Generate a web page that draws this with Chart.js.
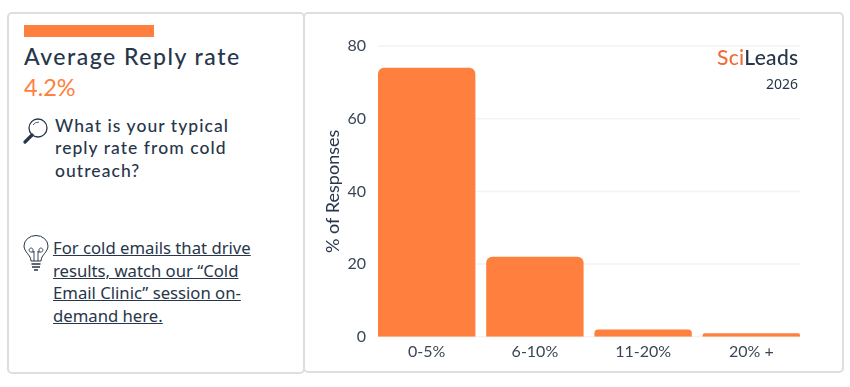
<!DOCTYPE html>
<html>
<head>
<meta charset="utf-8">
<script src="https://cdn.jsdelivr.net/npm/chart.js@4"></script>
<style>
  html, body { margin: 0; padding: 0; background: #fff; }
  body { width: 850px; height: 387px; position: relative; overflow: hidden; color: #27364a; }
  .card { position: absolute; box-sizing: border-box; border: 2px solid #dedede; border-radius: 5px; background: #fff; }
  #izq { left: 7px; top: 12px; width: 298px; height: 362px; }
  #der { left: 303px; top: 12px; width: 541px; height: 361px; }
  #barra { position: absolute; left: 24px; top: 25px; width: 130px; height: 12px; background: #ff7f3e; }
  .t { position: absolute; white-space: nowrap; }
  #titulo { left: 24px; top: 42px; font: 500 23px/28px Lato, sans-serif; letter-spacing: 1.5px; }
  #valor { left: 24px; top: 72px; font: 400 23.5px/30px Lato, sans-serif; color: #ff7f3e; }
  #pregunta { left: 55px; top: 114.5px; font: 500 17.5px/22.7px Lato, sans-serif; letter-spacing: 1.05px; }
  #enlace { left: 53px; top: 237px; font: 400 16.7px/22.7px "Noto Sans", sans-serif; text-decoration: underline; }
  #logo { left: 717px; top: 46px; font: 500 21px/22px Lato, sans-serif; letter-spacing: 0.3px; }
  #logo span { color: #f26a36; }
  #anio { left: 766px; top: 75px; font: 400 14px/18px "Noto Sans", sans-serif; }
  svg { position: absolute; fill: none; stroke: #27364a; }
  #grafico { position: absolute; left: 305px; top: 14px; }
</style>
</head>
<body>
<div class="card" id="izq"></div>
<div class="card" id="der"></div>
<div id="barra"></div>
<div class="t" id="titulo">Average Reply rate</div>
<div class="t" id="valor">4.2%</div>
<svg style="left:23px;top:117px" width="26" height="27" viewBox="0 0 26 27">
  <circle cx="15" cy="11" r="9" stroke-width="1.3"/>
  <path d="M9 18 L2 25" stroke-width="3.2" stroke-linecap="round"/>
  <path d="M10 8 Q12 5 16 5" stroke-width="0.8"/>
</svg>
<div class="t" id="pregunta">What is your typical<br>reply rate from cold<br>outreach?</div>
<svg style="left:23px;top:235px" width="26" height="37" viewBox="0 0 26 37">
  <path d="M8 26 C8 20 1 17 1 11 A12 10.5 0 0 1 25 11 C25 17 18 20 18 26 Z" stroke-width="1"/>
  <path d="M11 26 V16 M15 26 V16 M11 17 H7.5 A2 2 0 1 1 10 14.5 V17 M15 17 H18.5 A2 2 0 1 0 16 14.5 V17" stroke-width="0.9"/>
  <path d="M8.5 29 H17.5 M9 32 H17 M11 35 H15" stroke-width="1.5"/>
</svg>
<div class="t" id="enlace">For cold emails that drive<br>results, watch our “Cold<br>Email Clinic” session on-<br>demand here.</div>
<canvas id="grafico" width="537" height="357"></canvas>
<div class="t" id="logo"><span>Sci</span>Leads</div>
<div class="t" id="anio">2026</div>
<script>
const categorias = ['0-5%', '6-10%', '11-20%', '20% +'];
const respuestas = [74, 22, 2, 1];
const marcasY = [0, 20, 40, 60, 80];

// Las líneas de la rejilla van de borde a borde de las barras, no de todo el área
const rejilla = {
    id: 'rejilla',
    beforeDatasetsDraw(chart) {
        const { ctx, scales: { x, y } } = chart;
        const margen = x.width / 80;
        ctx.save();
        ctx.strokeStyle = '#f3f3f3';
        ctx.lineWidth = 1.5;
        y.ticks.forEach(t => {
            const py = y.getPixelForValue(t.value);
            ctx.beginPath();
            ctx.moveTo(x.left + margen, py);
            ctx.lineTo(x.right - margen, py);
            ctx.stroke();
        });
        ctx.restore();
    }
};

new Chart(document.getElementById('grafico'), {
    type: 'bar',
    data: {
        labels: categorias,
        datasets: [{
            data: respuestas,
            backgroundColor: '#ff7f3e',
            borderRadius: 6,
            barPercentage: 0.9,
            categoryPercentage: 1
        }]
    },
    plugins: [rejilla],
    options: {
        responsive: false,
        animation: false,
        layout: { padding: { top: 32, right: 36.6, bottom: 5, left: 17 } },
        plugins: { legend: { display: false }, tooltip: { enabled: false } },
        scales: {
            x: {
                grid: { display: false, drawTicks: false },
                border: { display: false },
                ticks: { color: '#3a4656', font: { family: 'Lato', size: 16 }, padding: 5 }
            },
            y: {
                min: 0,
                max: 80,
                afterBuildTicks: axis => { axis.ticks = marcasY.map(v => ({ value: v })); },
                afterFit: axis => { axis.width = 50.6; },
                grid: { display: false, drawTicks: false },
                border: { display: false },
                title: {
                    display: true,
                    text: '% of Responses',
                    color: '#27364a',
                    font: { family: 'Lato', size: 18 },
                    padding: 0
                },
                ticks: { color: '#3a4656', font: { family: 'Lato', size: 16 }, padding: 6.5 }
            }
        }
    }
});
</script>
</body>
</html>
